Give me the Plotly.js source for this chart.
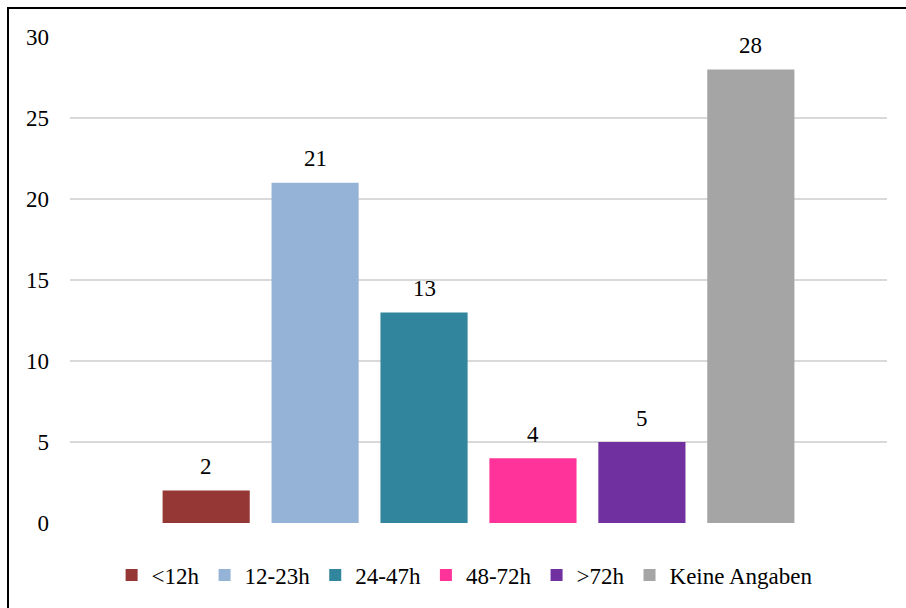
<!DOCTYPE html>
<html>
<head>
<meta charset="utf-8">
<script src="https://cdn.plot.ly/plotly-3.0.1.min.js"></script>
<style>
  html, body { margin: 0; padding: 0; background: #fff; }
  #wrap { position: relative; width: 906px; height: 608px; overflow: hidden; }
  #chart { position: absolute; left: 0; top: 0; width: 906px; height: 608px; }
  #frame { position: absolute; left: 7px; top: 7px; width: 1000px; height: 700px;
           border-left: 2px solid #000; border-top: 2px solid #000; pointer-events: none; }
</style>
</head>
<body>
<div id="wrap">
  <div id="chart"></div>
  <div id="frame"></div>
</div>
<script>
const categories = ["<12h", "12-23h", "24-47h", "48-72h", ">72h", "Keine Angaben"];
const values = [2, 21, 13, 4, 5, 28];
const colors = ["#953735", "#95B3D7", "#31859C", "#FF3399", "#7030A0", "#A5A5A5"];
const yTicks = [0, 5, 10, 15, 20, 25, 30];

const font = "Liberation Serif";
const fsize = 23;

const traces = categories.map((c, i) => ({
  type: "bar",
  name: c,
  x: [c],
  y: [values[i]],
  marker: { color: colors[i] },
  hoverinfo: "name+y"
}));

const annotations = categories.map((c, i) => ({
  x: c,
  y: values[i],
  xref: "x",
  yref: "y",
  text: String(values[i]),
  showarrow: false,
  yanchor: "middle",
  yshift: 24,
  font: { family: font, size: fsize, color: "#000" }
}));

const layout = {
  width: 906,
  height: 608,
  margin: { l: 70, r: 19, t: 37, b: 83 },
  paper_bgcolor: "#fff",
  plot_bgcolor: "#fff",
  font: { family: font, size: fsize, color: "#000" },
  barmode: "overlay",
  bargap: 0.2,
  showlegend: true,
  legend: {
    orientation: "h",
    x: 0.483,
    xanchor: "center",
    y: -0.107,
    yanchor: "middle",
    itemwidth: 30,
    font: { family: font, size: fsize, color: "#000" },
    traceorder: "normal"
  },
  xaxis: {
    type: "category",
    categoryorder: "array",
    categoryarray: categories,
    range: [-1.25, 5 + 1.25],
    showticklabels: false,
    showgrid: false,
    zeroline: false,
    showline: false,
    ticks: ""
  },
  yaxis: {
    range: [0, 30],
    tickvals: yTicks,
    ticktext: yTicks.map(String),
    showgrid: true,
    gridcolor: "#D9D9D9",
    gridwidth: 1.5,
    zeroline: false,
    showline: false,
    ticks: "",
    ticklabelstandoff: 20,
    tickfont: { family: font, size: fsize, color: "#000" }
  },
  annotations: annotations
};

Plotly.newPlot("chart", traces, layout, { displayModeBar: false, staticPlot: true });
</script>
</body>
</html>
